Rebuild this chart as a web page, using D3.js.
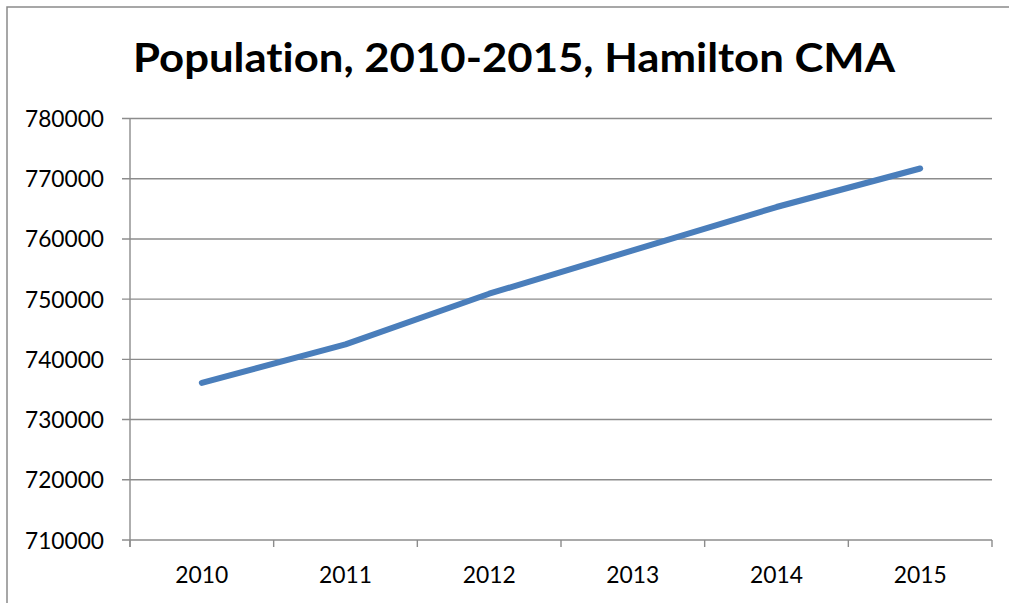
<!DOCTYPE html>
<html>
<head>
<meta charset="utf-8">
<script src="https://cdn.jsdelivr.net/npm/d3@7"></script>
<style>
  html, body { margin: 0; padding: 0; background: #fff; }
  svg { display: block; }
  text { font-variant-ligatures: none; font-feature-settings: "liga" 0; }
</style>
</head>
<body>
<div id="chart"></div>
<script>
// Chart values
const years = ["2010", "2011", "2012", "2013", "2014", "2015"];
const population = [736100, 742500, 750900, 758100, 765300, 771700];
const yTicks = [710000, 720000, 730000, 740000, 750000, 760000, 770000, 780000];
const title = "Population, 2010-2015, Hamilton CMA";

const width = 1009;
const height = 603;
const margin = { top: 118.5, right: 17, bottom: 63, left: 130 };
const font = "Lato, 'Liberation Sans', sans-serif";

const svg = d3.select("#chart")
  .append("svg")
  .attr("width", width)
  .attr("height", height);

// Outer chart frame (only top and left edges are visible in the picture)
svg.append("path")
  .attr("d", `M7,${height} V7 H${width}`)
  .attr("fill", "none")
  .attr("stroke", "#8a8a8a")
  .attr("stroke-width", 1.5);

const x = d3.scaleBand()
  .domain(years)
  .range([margin.left, width - margin.right]);

const y = d3.scaleLinear()
  .domain([710000, 780000])
  .range([height - margin.bottom, margin.top]);

// Horizontal gridlines
svg.append("g")
  .selectAll("line")
  .data(yTicks)
  .join("line")
  .attr("x1", margin.left - 8)
  .attr("x2", width - margin.right)
  .attr("y1", d => y(d))
  .attr("y2", d => y(d))
  .attr("stroke", "#8c8c8c")
  .attr("stroke-width", 1.4);

// Y axis line
svg.append("line")
  .attr("x1", margin.left)
  .attr("x2", margin.left)
  .attr("y1", margin.top)
  .attr("y2", height - margin.bottom + 7)
  .attr("stroke", "#8c8c8c")
  .attr("stroke-width", 1.4);

// X axis tick marks at band edges
const edges = years.map(d => x(d)).concat([x(years[years.length - 1]) + x.bandwidth()]);
svg.append("g")
  .selectAll("line")
  .data(edges)
  .join("line")
  .attr("x1", d => d)
  .attr("x2", d => d)
  .attr("y1", height - margin.bottom)
  .attr("y2", height - margin.bottom + 7)
  .attr("stroke", "#8c8c8c")
  .attr("stroke-width", 1.4);

// Y tick labels (squeezed to the narrower Calibri-like width of the original)
svg.append("g")
  .selectAll("text")
  .data(yTicks)
  .join("text")
  .attr("x", 104)
  .attr("y", d => y(d) + 8.5)
  .attr("text-anchor", "end")
  .attr("font-family", font)
  .attr("font-size", 23)
  .attr("textLength", 79)
  .attr("lengthAdjust", "spacingAndGlyphs")
  .attr("fill", "#000")
  .text(d => d);

// X tick labels
svg.append("g")
  .selectAll("text")
  .data(years)
  .join("text")
  .attr("x", d => x(d) + x.bandwidth() / 2)
  .attr("y", height - margin.bottom + 43)
  .attr("text-anchor", "middle")
  .attr("font-family", font)
  .attr("font-size", 23)
  .attr("textLength", 53)
  .attr("lengthAdjust", "spacingAndGlyphs")
  .attr("fill", "#000")
  .text(d => d);

// Population line
const line = d3.line()
  .x((d, i) => x(years[i]) + x.bandwidth() / 2)
  .y(d => y(d));

svg.append("path")
  .datum(population)
  .attr("d", line)
  .attr("fill", "none")
  .attr("stroke", "#4a7ebb")
  .attr("stroke-width", 6)
  .attr("stroke-linecap", "round")
  .attr("stroke-linejoin", "round");

// Title
svg.append("text")
  .attr("x", 514)
  .attr("y", 72)
  .attr("text-anchor", "middle")
  .attr("font-family", font)
  .attr("font-weight", "bold")
  .attr("font-size", 40)
  .attr("textLength", 762)
  .attr("lengthAdjust", "spacingAndGlyphs")
  .attr("fill", "#000")
  .text(title);
</script>
</body>
</html>
